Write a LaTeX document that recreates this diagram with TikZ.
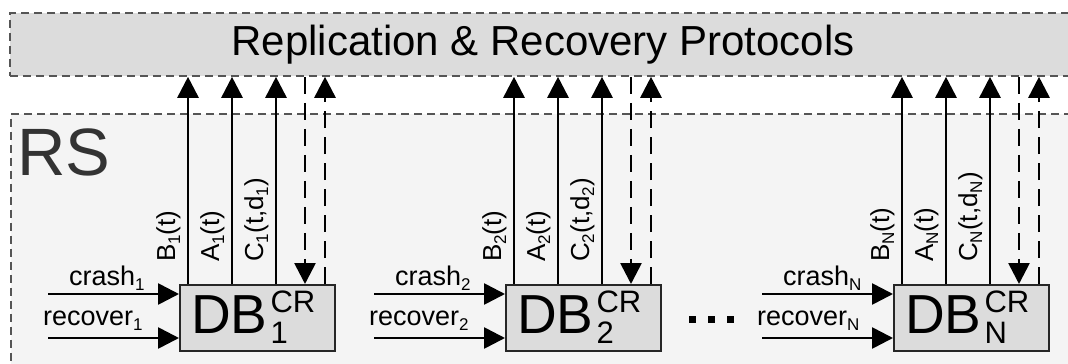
\documentclass[tikz,border=0pt]{standalone}
\usepackage{fontspec}
\setmainfont{Liberation Sans}
\usetikzlibrary{arrows.meta}
\definecolor{protofill}{HTML}{DCDCDC}
\definecolor{rsfill}{HTML}{F4F4F4}
\definecolor{dashgray}{HTML}{555555}
\definecolor{dbfill}{HTML}{DCDCDC}
% lowered index used in signal labels
\newcommand\lsub[1]{\raisebox{-5pt}{\fontsize{17}{17}\selectfont #1}}
% DB^{CR}_{i}
\newcommand\dbname[1]{{\fontsize{55}{55}\selectfont DB}\kern3pt\rlap{\raisebox{21pt}{\fontsize{31}{31}\selectfont CR}}\raisebox{-10pt}{\smash{\fontsize{31}{31}\selectfont #1}}}
\begin{document}
\begin{tikzpicture}[x=1pt,y=-1pt,
  region/.style={draw=dashgray, line width=1.8pt, dash pattern=on 8pt off 5pt,
    inner sep=0pt, anchor=north west},
  dbbox/.style={draw=black!85, fill=dbfill, line width=2.2pt, minimum width=155pt,
    minimum height=66pt, inner sep=0pt, anchor=north west},
  sig/.style={line width=2.7pt, -{Triangle[length=21pt,width=21pt]}},
  ctl/.style={sig, dash pattern=on 17pt off 9pt},
  vlabel/.style={rotate=90, anchor=base west, inner sep=0pt, font=\fontsize{26}{26}\selectfont},
  hlabel/.style={anchor=base west, inner sep=0pt, font=\fontsize{27}{27}\selectfont},
]
\useasboundingbox (0,0) rectangle (1068,364);
\fill[white] (0,0) rectangle (1068,364);

% replica system and protocol layer
\node[region, fill=rsfill, minimum width=1070pt, minimum height=260pt] (rs) at (10,113) {};
\node[region, fill=protofill, minimum width=1070pt, minimum height=63pt] (proto) at (9,12) {};
\node[anchor=base, inner sep=0pt, font=\fontsize{42}{42}\selectfont] (title) at (543,55)
  {Replication \& Recovery Protocols};
\node[anchor=base west, inner sep=0pt, text=black!80, font=\fontsize{67}{67}\selectfont]
  (rslabel) at (17,175) {RS};

% one database replica per column
\foreach \n/\bx in {1/179, 2/505, N/893} {
  \node[dbbox] (db\n) at (\bx,284) {};
  \node[anchor=base west, inner sep=0pt] (dbt\n) at (\bx+12,333) {\dbname{\n}};

  \coordinate (pB\n) at (\bx+9,284);
  \coordinate (pA\n) at (\bx+53,284);
  \coordinate (pC\n) at (\bx+97,284);
  \coordinate (pD\n) at (\bx+126,284);
  \coordinate (pU\n) at (\bx+146,284);

  \draw[sig] (db\n.north -| pB\n) -- (proto.south -| pB\n);
  \draw[sig] (db\n.north -| pA\n) -- (proto.south -| pA\n);
  \draw[sig] (db\n.north -| pC\n) -- (proto.south -| pC\n);
  \draw[ctl] (proto.south -| pD\n) -- (db\n.north -| pD\n);
  \draw[ctl] (db\n.north -| pU\n) -- (proto.south -| pU\n);

  \node[vlabel] (lB\n) at (\bx-4,262)  {B\lsub{\n}(t)};
  \node[vlabel] (lA\n) at (\bx+40,262) {A\lsub{\n}(t)};
  \node[vlabel] (lC\n) at (\bx+84,262) {C\lsub{\n}(t,d\lsub{\n})};

  \coordinate (cr\n) at (\bx-131,294);
  \coordinate (rc\n) at (\bx-131,338);
  \draw[sig] (cr\n) -- (db\n.west |- cr\n);
  \draw[sig] (rc\n) -- (db\n.west |- rc\n);
  \node[hlabel] (lcr\n) at (\bx-110,285) {crash\lsub{\n}};
  \node[hlabel] (lrc\n) at (\bx-136,325) {recover\lsub{\n}};
}

% ellipsis between the second and the last replica
\foreach \dx in {689,708,727}
  \fill (\dx,316) rectangle ++(7,7);
\end{tikzpicture}
\end{document}
